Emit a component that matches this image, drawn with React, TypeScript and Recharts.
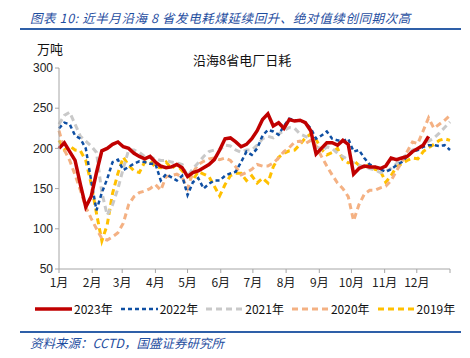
import { Line, LineChart, XAxis, YAxis } from 'recharts'

// day of year for each sample
const days = [
  0, 5, 10, 15, 20, 25, 30, 35, 40, 45,
  50, 55, 60, 65, 70, 75, 80, 85, 90, 95,
  100, 105, 110, 115, 120, 125, 130, 135, 140, 145,
  150, 155, 160, 165, 170, 175, 180, 185, 190, 195,
  200, 205, 210, 215, 220, 225, 230, 235, 240, 245,
  250, 255, 260, 265, 270, 275, 280, 285, 290, 295,
  300, 305, 310, 315, 320, 325, 330, 335, 340, 345,
  350, 355, 360, 365,
]

const y2023 = [
  200, 207, 196, 185, 155, 127, 140, 170, 197, 200,
  205, 208, 202, 200, 194, 190, 187, 190, 183, 178,
  176, 177, 180, 176, 165, 170, 172, 176, 180, 186,
  198, 212, 213, 208, 202, 205, 212, 222, 236, 243,
  228, 232, 225, 236, 234, 235, 232, 222, 193, 200,
  207, 207, 204, 210, 205, 168, 175, 178, 177, 177,
  175, 178, 188, 186, 188, 190, 196, 200, 204, 215,
  null, null, null, null,
]

const y2022 = [
  225, 232, 230, 216, 212, 200, 160, 123, 145, 162,
  183, 186, 173, 177, 181, 184, 183, 181, 181, 160,
  168, 164, 160, 166, 142, 158, 163, 150, 156, 160,
  160, 166, 169, 171, 183, 196, 192, 200, 216, 223,
  221, 217, 228, 237, 235, 235, 232, 225, 212, 216,
  221, 212, 210, 209, 212, 196, 198, 188, 180, 177,
  174, 171, 174, 179, 183, 190, 196, 198, 202, 204,
  204, 203, 204, 198,
]

const y2021 = [
  230, 241, 245, 230, 215, 209, 203, 195, 145, 117,
  130, 150, 175, 198, 198, 195, 190, 189, 187, 185,
  185, 183, 182, 180, 165, 175, 182, 190, 196, 198,
  198, 204, 203, 198, 195, 198, 198, 204, 212, 215,
  213, 218, 222, 226, 225, 218, 215, 212, 205, 196,
  202, 200, 194, 190, 186, 182, 179, 177, 175, 173,
  170, 171, 175, 181, 187, 193, 198, 200, 205, 209,
  213, 219, 226, 233,
]

const y2020 = [
  222, 198, 185, 167, 148, 127, 113, 100, 88, 86,
  90, 95, 107, 130, 140, 145, 147, 150, 155, 148,
  165, 166, 168, 164, 150, 170, 180, 184, 187, 188,
  186, 188, 185, 177, 167, 170, 174, 180, 178, 178,
  182, 188, 196, 201, 208, 209, 206, 210, 203, 190,
  178, 167, 157, 150, 140, 110, 130, 143, 148, 148,
  151, 153, 160, 172, 183, 196, 208, 206, 222, 238,
  225, 230, 235, 241,
]

const y2019 = [
  210, 198, 203, 198, 197, 185, 156, 119, 85, 105,
  144, 169, 189, 179, 172, 170, 183, 184, 177, 176,
  183, 175, 180, 172, 166, 161, 171, 168, 165, 153,
  141, 155, 166, 169, 169, 160, 166, 157, 163, 157,
  177, 189, 194, 197, 198, 205, 213, 218, 211, 199,
  192, 195, 200, 186, 182, 185, 179, 177, 180, 174,
  172, 158, 166, 177, 181, 185, 188, 187, 196, 201,
  205, 210, 212, 210,
]

const monthTicks = [0, 31, 59, 90, 120, 151, 181, 212, 243, 273, 304, 334, 365]
const monthLabels = ['1月', '2月', '3月', '4月', '5月', '6月', '7月', '8月', '9月', '10月', '11月', '12月', '']
const yTicks = [50, 100, 150, 200, 250, 300]

const series = [
  { key: 'y2019', name: '2019年', color: '#FFC000', width: 3, dash: '6 4' },
  { key: 'y2020', name: '2020年', color: '#F4B183', width: 3, dash: '6 4' },
  { key: 'y2021', name: '2021年', color: '#C9C9C9', width: 3, dash: '6 4' },
  { key: 'y2022', name: '2022年', color: '#0F4FA3', width: 2.5, dash: '4 3' },
  { key: 'y2023', name: '2023年', color: '#C00000', width: 3.5, dash: undefined },
]

const rows = days.map((day, i) => ({
  day,
  y2023: y2023[i],
  y2022: y2022[i],
  y2021: y2021[i],
  y2020: y2020[i],
  y2019: y2019[i],
}))

const blue = '#1F4E9F'
const cjk = '"Noto Sans CJK SC", "Liberation Sans", sans-serif'
const axisFont = '"Liberation Sans", "Noto Sans CJK SC", sans-serif'

export default function App() {
  const legendItems = [...series].reverse()
  return (
    <div
      style={{
        position: 'relative',
        width: 470,
        height: 358,
        margin: '-8px 0 0 -8px',
        background: '#fff',
        fontFamily: cjk,
        overflow: 'hidden',
      }}
    >
      <div
        style={{
          position: 'absolute',
          left: 30,
          top: 8,
          fontSize: 12.5,
          letterSpacing: 0.6,
          fontStyle: 'italic',
          color: blue,
          whiteSpace: 'nowrap',
        }}
      >
        图表 10: 近半月沿海 8 省发电耗煤延续回升、绝对值续创同期次高
      </div>
      <div style={{ position: 'absolute', left: 20, top: 28, width: 441, height: 2, background: '#2E5FA8' }} />
      <div style={{ position: 'absolute', left: 37, top: 39, fontSize: 13, color: '#111' }}>万吨</div>
      <div style={{ position: 'absolute', left: 193, top: 50, fontSize: 13, color: '#111', whiteSpace: 'nowrap' }}>
        沿海8省电厂日耗
      </div>

      <div style={{ position: 'absolute', left: 0, top: 0 }}>
        <LineChart
          width={470}
          height={358}
          data={rows}
          margin={{ top: 68, right: 20, bottom: 66, left: 0 }}
        >
          <XAxis
            type='number'
            dataKey='day'
            domain={[0, 365]}
            ticks={monthTicks}
            interval={0}
            tickFormatter={(v) => monthLabels[monthTicks.indexOf(Number(v))] ?? ''}
            stroke='#A6A6A6'
            tickSize={4}
            tickMargin={5}
            height={23}
            tick={{ fill: '#222', fontSize: 12, fontFamily: cjk }}
          />
          <YAxis
            domain={[50, 300]}
            ticks={yTicks}
            interval={0}
            width={59}
            stroke='#A6A6A6'
            tickSize={4}
            tick={{ fill: '#222', fontSize: 12, fontFamily: axisFont }}
          />
          {series.map((s) => (
            <Line
              key={s.key}
              type='linear'
              dataKey={s.key}
              name={s.name}
              stroke={s.color}
              strokeWidth={s.width}
              strokeDasharray={s.dash}
              dot={false}
              activeDot={false}
              isAnimationActive={false}
            />
          ))}
        </LineChart>
      </div>

      <div
        style={{
          position: 'absolute',
          left: 35,
          top: 300,
          display: 'flex',
          alignItems: 'center',
          gap: 8,
          fontSize: 12,
          color: '#111',
          whiteSpace: 'nowrap',
        }}
      >
        {legendItems.map((s) => (
          <div key={s.key} style={{ display: 'flex', alignItems: 'center', gap: 2 }}>
            <svg width={37} height={6}>
              <line
                x1={0}
                y1={3}
                x2={37}
                y2={3}
                stroke={s.color}
                strokeWidth={s.width}
                strokeDasharray={s.dash}
              />
            </svg>
            <span>{s.name}</span>
          </div>
        ))}
      </div>

      <div style={{ position: 'absolute', left: 20, top: 331, width: 441, height: 2, background: '#2E5FA8' }} />
      <div
        style={{
          position: 'absolute',
          left: 30,
          top: 333,
          fontSize: 12.5,
          fontStyle: 'italic',
          color: blue,
          whiteSpace: 'nowrap',
        }}
      >
        资料来源：CCTD，国盛证券研究所
      </div>
    </div>
  )
}
